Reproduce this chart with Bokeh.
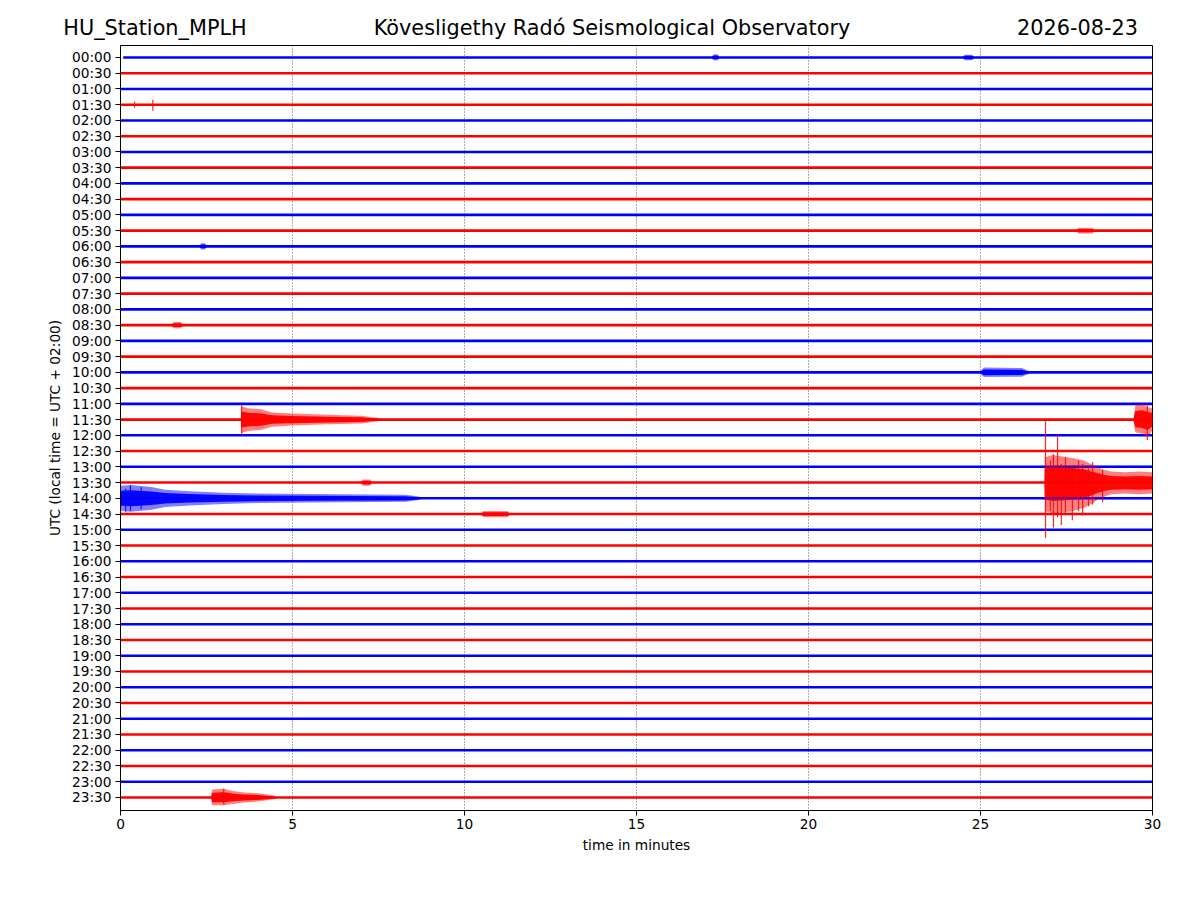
from bokeh.plotting import figure
from bokeh.models import Range1d, FixedTicker, LinearAxis
from bokeh.embed import file_html
from bokeh.resources import INLINE

# ---------------- data ----------------
station = "HU_Station_MPLH"
observatory = "Kövesligethy Radó Seismological Observatory"
day = "2026-08-23"
row_labels = ["00:00", "00:30", "01:00", "01:30", "02:00", "02:30", "03:00", "03:30",
              "04:00", "04:30", "05:00", "05:30", "06:00", "06:30", "07:00", "07:30",
              "08:00", "08:30", "09:00", "09:30", "10:00", "10:30", "11:00", "11:30",
              "12:00", "12:30", "13:00", "13:30", "14:00", "14:30", "15:00", "15:30",
              "16:00", "16:30", "17:00", "17:30", "18:00", "18:30", "19:00", "19:30",
              "20:00", "20:30", "21:00", "21:30", "22:00", "22:30", "23:00", "23:30"]
x_ticks = [0, 5, 10, 15, 20, 25, 30]
trace_begin = [0.08] + [0.0] * 47   # minutes
trace_end = [30.0] * 48

# envelopes of the larger signals: row, time (min), reach above / below trace (row spacings)
ev_1330_row = 27
ev_1330_t = [26.86, 26.87, 27.1, 27.4, 27.7, 28.0, 28.2, 28.4, 28.6, 28.8, 29.2, 29.6, 30.0]
ev_1330_up = [0.10, 1.60, 1.75, 1.65, 1.55, 1.40, 1.20, 1.00, 0.80, 0.70, 0.65, 0.70, 0.65]
ev_1330_dn = [0.10, 1.80, 1.95, 1.90, 1.80, 1.60, 1.40, 1.10, 0.90, 0.75, 0.70, 0.75, 0.70]

ev_1130a_row = 23
ev_1130a_t = [3.50, 3.52, 3.70, 4.10, 4.40, 5.00, 6.00, 7.00, 7.50]
ev_1130a_up = [0.10, 0.85, 0.72, 0.65, 0.45, 0.38, 0.30, 0.25, 0.10]
ev_1130a_dn = [0.10, 0.85, 0.72, 0.65, 0.45, 0.38, 0.30, 0.25, 0.10]

ev_1130b_row = 23
ev_1130b_t = [29.45, 29.50, 29.70, 29.85, 30.00]
ev_1130b_up = [0.10, 0.90, 1.00, 0.80, 0.70]
ev_1130b_dn = [0.10, 0.80, 0.90, 1.10, 0.70]

ev_1400_row = 28
ev_1400_t = [0.0, 0.3, 0.9, 1.3, 2.0, 3.0, 4.0, 5.5, 8.3, 8.7]
ev_1400_up = [0.80, 0.85, 0.72, 0.55, 0.45, 0.36, 0.30, 0.27, 0.22, 0.10]
ev_1400_dn = [0.80, 0.85, 0.72, 0.55, 0.45, 0.36, 0.30, 0.27, 0.22, 0.10]

ev_1000_row = 20
ev_1000_t = [25.0, 25.1, 26.2, 26.4]
ev_1000_up = [0.10, 0.30, 0.28, 0.10]
ev_1000_dn = [0.10, 0.30, 0.28, 0.10]

ev_2330_row = 47
ev_2330_t = [2.64, 2.66, 3.0, 3.3, 3.6, 4.0, 4.5]
ev_2330_up = [0.10, 0.50, 0.55, 0.40, 0.32, 0.26, 0.10]
ev_2330_dn = [0.10, 0.50, 0.50, 0.40, 0.32, 0.26, 0.10]

# single spikes: row, time (min), reach above / below the trace (row spacings)
spike_row = [27, 27, 27, 27, 27, 27, 27, 27, 27, 27, 27, 27,
             23, 23, 28, 28, 28, 3, 3, 47]
spike_t = [26.89, 27.03, 27.12, 27.24, 27.35, 27.47, 27.67, 27.85, 27.97, 28.14, 28.26, 28.55,
           3.52, 29.85, 0.15, 0.29, 0.6, 0.94, 0.41, 3.0]
spike_up = [3.90, 1.40, 1.80, 3.00, 1.20, 1.60, 1.10, 1.40, 1.20, 0.90, 1.30, 0.80,
            0.90, 1.00, 0.60, 0.83, 0.7, 0.32, 0.20, 0.55]
spike_dn = [3.50, 1.80, 2.85, 2.20, 2.70, 2.00, 2.40, 1.80, 2.10, 1.50, 1.40, 1.25,
            0.90, 1.30, 0.85, 0.80, 0.7, 0.38, 0.20, 0.45]

# small bursts: row, start, end (min), reach (row spacings)
burst_row = [29, 27, 0, 0, 12, 17, 11]
burst_t0 = [10.5, 7.0, 17.2, 24.5, 2.3, 1.5, 27.8]
burst_t1 = [11.3, 7.3, 17.4, 24.8, 2.5, 1.8, 28.3]
burst_amp = [0.20, 0.20, 0.20, 0.18, 0.20, 0.20, 0.18]

# ---------------- styling ----------------
FONT = "DejaVu Sans"
BLUE, RED = "#0000ff", "#ff0000"
BASE = 0.09

def row_color(r):
    return BLUE if r % 2 == 0 else RED

p = figure(width=1184, height=884, output_backend="svg", toolbar_location=None, title=None,
           x_range=Range1d(0, 30), y_range=Range1d(47.83, -0.76),
           min_border_left=120, min_border_right=32, min_border_top=45, min_border_bottom=74)
p.background_fill_color = "white"
p.border_fill_color = "white"
p.outline_line_color = "black"
p.outline_line_width = 1

for r in range(len(row_labels)):
    p.line([trace_begin[r], trace_end[r]], [r, r], line_color=row_color(r), line_width=2.6)

def envelope(row, ts, up, dn):
    c = row_color(row)
    p.varea(x=ts, y1=[row - u for u in up], y2=[row + d for d in dn], fill_color=c, fill_alpha=0.5)
    p.varea(x=ts, y1=[row - 0.6 * u for u in up], y2=[row + 0.6 * d for d in dn],
            fill_color=c, fill_alpha=0.95)

for i in range(len(burst_row)):
    a = burst_amp[i]
    envelope(burst_row[i], [burst_t0[i], burst_t0[i] + 0.05, burst_t1[i] - 0.05, burst_t1[i]],
             [BASE, a, a, BASE], [BASE, a, a, BASE])

envelope(ev_1000_row, ev_1000_t, ev_1000_up, ev_1000_dn)
envelope(ev_1130a_row, ev_1130a_t, ev_1130a_up, ev_1130a_dn)
envelope(ev_1130b_row, ev_1130b_t, ev_1130b_up, ev_1130b_dn)
envelope(ev_1330_row, ev_1330_t, ev_1330_up, ev_1330_dn)
envelope(ev_1400_row, ev_1400_t, ev_1400_up, ev_1400_dn)
envelope(ev_2330_row, ev_2330_t, ev_2330_up, ev_2330_dn)

p.segment(x0=spike_t, y0=[spike_row[i] - spike_up[i] for i in range(len(spike_t))],
          x1=spike_t, y1=[spike_row[i] + spike_dn[i] for i in range(len(spike_t))],
          line_color=[row_color(r) for r in spike_row], line_width=1.2, line_alpha=0.85)

# the blue traces show through the 13:30 event
p.line([26.8, 30.0], [28, 28], line_color=BLUE, line_width=2.0, line_alpha=0.6)
p.line([26.8, 30.0], [26, 26], line_color=BLUE, line_width=2.0, line_alpha=0.45)

# axes
p.xaxis.ticker = FixedTicker(ticks=x_ticks)
p.yaxis.ticker = FixedTicker(ticks=list(range(len(row_labels))))
p.yaxis.major_label_overrides = {i: lab for i, lab in enumerate(row_labels)}
for ax in (p.xaxis[0], p.yaxis[0]):
    ax.minor_tick_line_color = None
    ax.major_tick_in = 0
    ax.major_tick_out = 5
    ax.major_tick_line_color = "black"
    ax.axis_line_color = "black"
    ax.major_label_text_font = FONT
    ax.major_label_text_font_size = "13.7px"
    ax.major_label_text_color = "black"
    ax.axis_label_text_font = FONT
    ax.axis_label_text_font_size = "13.7px"
    ax.axis_label_text_font_style = "normal"
    ax.axis_label_text_color = "black"
p.xaxis.axis_label = "time in minutes"
p.yaxis.axis_label = "UTC (local time = UTC + 02:00)"
p.xaxis.major_label_standoff = 3
p.yaxis.major_label_standoff = 4
p.xaxis.axis_label_standoff = 5
p.yaxis.axis_label_standoff = 6

p.ygrid.grid_line_color = None
p.xgrid.ticker = FixedTicker(ticks=x_ticks[1:-1])
p.xgrid.grid_line_color = "black"
p.xgrid.grid_line_dash = "1 2"
p.xgrid.grid_line_width = 0.8
p.xgrid.grid_line_alpha = 0.8

# heading line: the three heading texts as labels of an axis above the frame,
# placed on a page-pixel scale (frame spans pixels 120..1152)
p.extra_x_ranges = {"page": Range1d(120, 1152)}
head = LinearAxis(x_range_name="page",
                  ticker=FixedTicker(ticks=[154.5, 611.5, 1077.0]),
                  major_label_overrides={154.5: station, 611.5: observatory, 1077.0: day})
head.axis_line_color = None
head.major_tick_line_color = None
head.minor_tick_line_color = None
head.major_tick_out = 0
head.major_tick_in = 0
head.major_label_standoff = 6
head.major_label_text_font = FONT
head.major_label_text_font_size = "20.8px"
head.major_label_text_color = "black"
p.add_layout(head, "above")

open("out.html", "w").write(file_html(p, INLINE))
